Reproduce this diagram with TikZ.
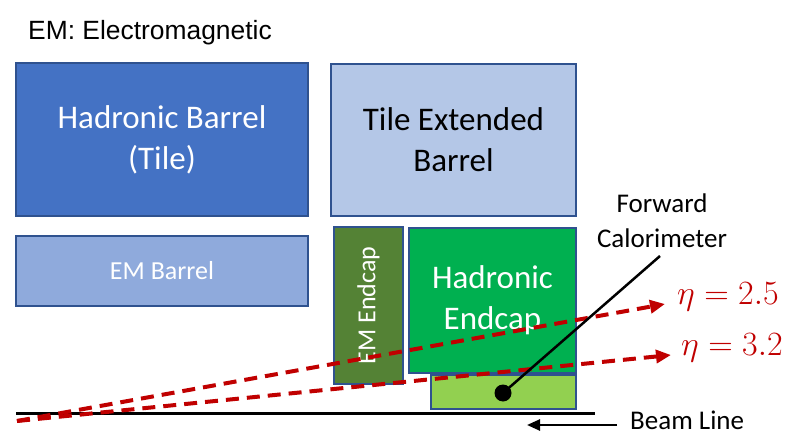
\RequirePackage{fix-cm}
\documentclass[tikz,border=0pt]{standalone}
\usepackage{fontspec}
\setmainfont{Carlito}
\newfontfamily\arialfont{Liberation Sans}
\usetikzlibrary{arrows.meta}
\definecolor{edgeblue}{HTML}{2F528F}
\definecolor{hbfill}{HTML}{4472C4}
\definecolor{ebfill}{HTML}{8FAADC}
\definecolor{tefill}{HTML}{B4C7E7}
\definecolor{eefill}{HTML}{548235}
\definecolor{hefill}{HTML}{00B050}
\definecolor{fcfill}{HTML}{92D050}
\definecolor{etared}{HTML}{C00000}
\begin{document}
\begin{tikzpicture}[x=1pt,y=-1pt,
  detbox/.style={draw=edgeblue, line width=2pt, rectangle, inner sep=0pt, align=center},
  bigtext/.style={font=\fontsize{33}{41}\selectfont},
  smalltext/.style={font=\fontsize{26}{32}\selectfont},
  etaline/.style={draw=etared, line width=4pt, dash pattern=on 13pt off 8pt,
    -{Triangle[length=15pt,width=13pt]}},
  etalabel/.style={text=etared, anchor=west, inner sep=0pt, font=\fontsize{34}{40}\selectfont},
  plainlabel/.style={font=\fontsize{27}{35}\selectfont, align=center, inner sep=0pt}]
\useasboundingbox (0,0) rectangle (788,436);

\node[anchor=west, inner sep=0pt, font=\fontsize{26.4}{32}\selectfont\arialfont] (title) at (28,33) {EM: Electromagnetic};

\node[detbox, bigtext, fill=hbfill, text=white, minimum width=292pt, minimum height=153pt] (hb) at (162,139.5) {Hadronic Barrel\\(Tile)};
\node[detbox, smalltext, fill=ebfill, text=white, minimum width=292pt, minimum height=70pt] (eb) at (162,271) {EM Barrel};
\node[detbox, bigtext, fill=tefill, text=black, minimum width=245pt, minimum height=152pt] (te) at (453.5,140) {Tile Extended\\Barrel};
\node[detbox, smalltext, fill=eefill, text=white, rotate=90, minimum width=157pt, minimum height=69pt] (ee) at (368.5,305.5) {EM Endcap};
\node[detbox, bigtext, fill=hefill, text=white, minimum width=167pt, minimum height=145pt] (he) at (492.5,300.5) {Hadronic\\Endcap};
\node[detbox, fill=fcfill, minimum width=145pt, minimum height=34pt] (fc) at (503.5,392) {};

\coordinate (bl0) at (16,413);
\coordinate (bl1) at (595,413);
\draw[line width=3pt] (bl0) -- (bl1);

\coordinate (ip) at (17,421);
\coordinate (t25) at (665,304);
\coordinate (t32) at (671,355);
\draw[etaline] (ip) -- (t25);
\draw[etaline] (ip) -- (t32);
\node[etalabel] (l25) at (677,297) {$\eta = 2.5$};
\node[etalabel] (l32) at (681,348) {$\eta = 3.2$};

\node[plainlabel] (fclabel) at (662,221) {Forward\\Calorimeter};
\node[circle, fill=black, minimum size=17pt, inner sep=0pt] (fdot) at (503,393) {};
\coordinate (fcend) at (660,256);
\draw[line width=2.5pt] (fdot.center) -- (fcend);

\coordinate (ba0) at (617,425);
\coordinate (ba1) at (527,425);
\draw[line width=2.5pt, -{Triangle[length=13pt,width=11pt]}] (ba0) -- (ba1);
\node[anchor=base west, inner sep=0pt, font=\fontsize{27}{32}\selectfont] (bllabel) at (630,429.5) {Beam Line};
\end{tikzpicture}
\end{document}
